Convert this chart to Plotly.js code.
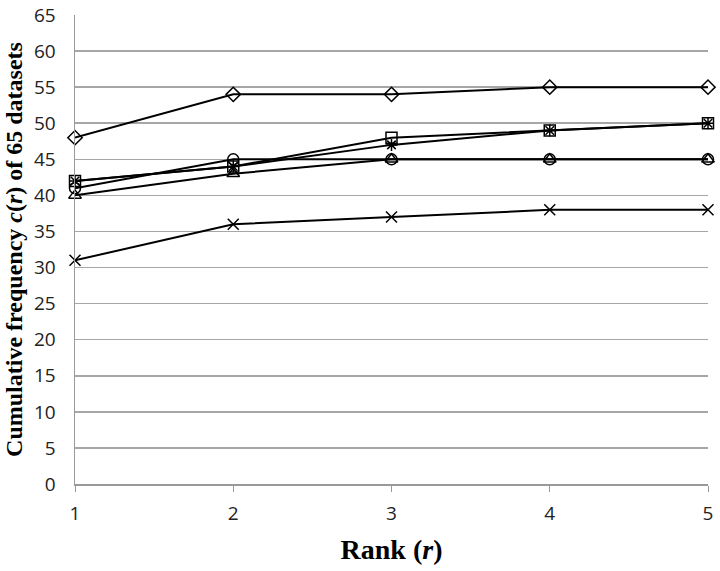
<!DOCTYPE html>
<html>
<head>
<meta charset="utf-8">
<script src="https://cdn.plot.ly/plotly-3.0.1.min.js"></script>
<style>
  html, body { margin: 0; padding: 0; background: #fff; }
  #chart { width: 720px; height: 571px; }
</style>
</head>
<body>
<div id="chart"></div>
<script>
// Cumulative frequency c(r) by rank, six methods (one marker each)
const ranks = [1, 2, 3, 4, 5];

const diamondVals  = [48, 54, 54, 55, 55];
const squareVals   = [42, 44, 48, 49, 50];
const asteriskVals = [42, 44, 47, 49, 50];
const circleVals   = [41, 45, 45, 45, 45];
const triangleVals = [40, 43, 45, 45, 45];
const crossVals    = [31, 36, 37, 38, 38];

const yTicks = [0, 5, 10, 15, 20, 25, 30, 35, 40, 45, 50, 55, 60, 65];

const SERIES = [
  { y: diamondVals,  symbol: "diamond-open",     size: 11 },
  { y: squareVals,   symbol: "square-open",      size: 11 },
  { y: asteriskVals, symbol: "asterisk-open",    size: 10 },
  { y: circleVals,   symbol: "circle-open",      size: 11 },
  { y: triangleVals, symbol: "triangle-up-open", size: 11 },
  { y: crossVals,    symbol: "x-thin-open",      size: 11 },
];

const traces = SERIES.map((s) => ({
  x: ranks, y: s.y, mode: "lines+markers", cliponaxis: false,
  line: { color: "#000", width: 2 },
  marker: { symbol: s.symbol, size: s.size, color: "#000",
            line: { color: "#000", width: 1.5 } },
  showlegend: false, hoverinfo: "x+y",
}));

const layout = {
  width: 720, height: 571,
  paper_bgcolor: "#fff", plot_bgcolor: "#fff",
  margin: { l: 75, r: 12, t: 15, b: 87 },
  font: { family: "Open Sans, Liberation Sans, sans-serif", color: "#222", size: 19 },
  xaxis: {
    range: [1, 5], tickvals: ranks, showgrid: false, zeroline: false,
    showline: true, linecolor: "#999", linewidth: 1.5,
    ticks: "outside", ticklen: 6, tickcolor: "#999", ticklabelstandoff: 6,
    title: { text: "<b>Rank (<i>r</i>)</b>", standoff: 14,
             font: { family: "Liberation Serif, serif", size: 28, color: "#000" } },
  },
  yaxis: {
    range: [0, 65], tickvals: yTicks, showgrid: true, gridcolor: "#a6a6a6", gridwidth: 1.5,
    zeroline: false, showline: true, linecolor: "#999", linewidth: 1.5, ticks: "",
    ticklabelstandoff: 14,
    title: { text: "<b>Cumulative frequency <i>c</i>(<i>r</i>) of 65 datasets</b>", standoff: 4,
             font: { family: "Liberation Serif, serif", size: 24, color: "#000" } },
  },
};

Plotly.newPlot("chart", traces, layout, { displayModeBar: false, staticPlot: true });
</script>
</body>
</html>
